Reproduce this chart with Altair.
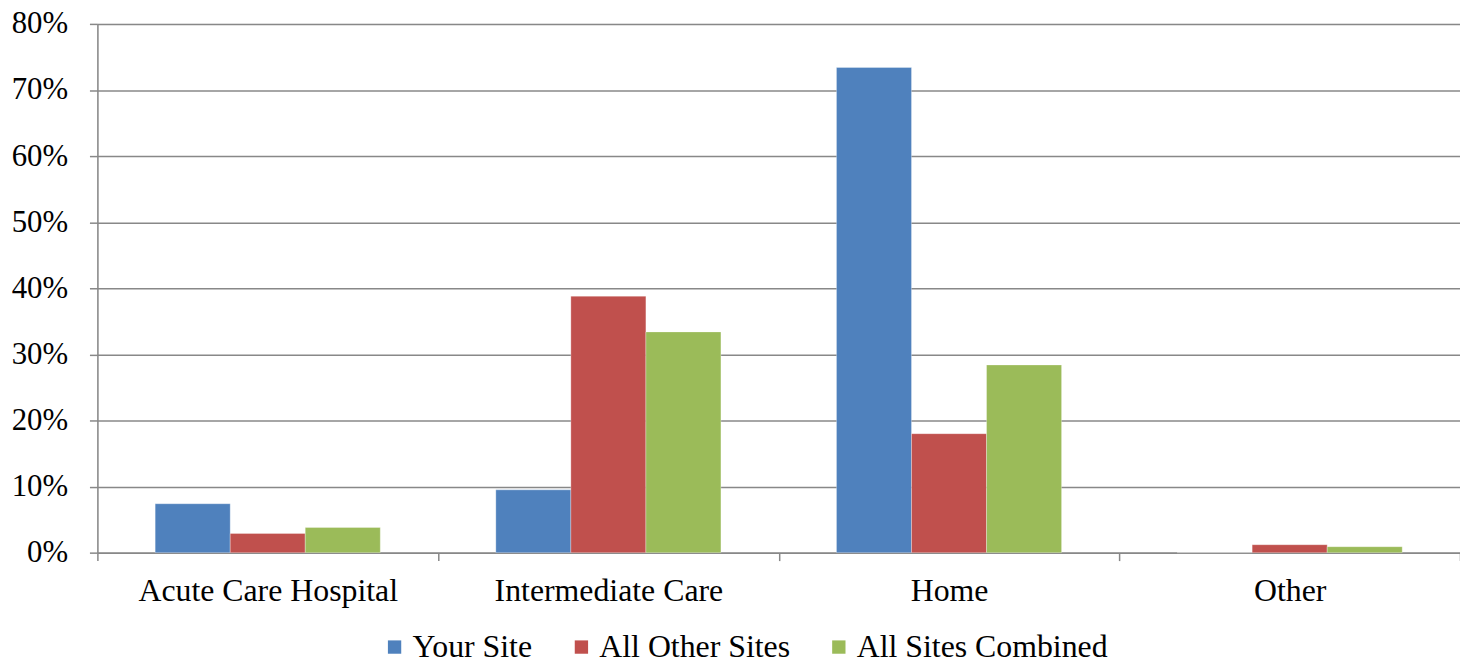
import altair as alt
import pandas as pd

categories = ["Acute Care Hospital", "Intermediate Care", "Home", "Other"]
series = ["Your Site", "All Other Sites", "All Sites Combined"]
your_site = [0.074, 0.095, 0.734, 0.0]
all_other_sites = [0.029, 0.388, 0.180, 0.012]
all_sites_combined = [0.038, 0.334, 0.284, 0.009]
colors = ["#4F81BD", "#C0504D", "#9BBB59"]
y_ticks = [0, 0.1, 0.2, 0.3, 0.4, 0.5, 0.6, 0.7, 0.8]

rows = []
for s, vals in zip(series, [your_site, all_other_sites, all_sites_combined]):
    for c, v in zip(categories, vals):
        rows.append({"Category": c, "Series": s, "Value": v})
df = pd.DataFrame(rows)

FONT = "Times New Roman, Liberation Serif, DejaVu Serif, serif"

chart = alt.Chart(df).mark_bar(stroke="white", strokeWidth=0.5, strokeOpacity=0.6).encode(
    x=alt.X("Category:N", sort=categories, title=None,
            scale=alt.Scale(paddingInner=0, paddingOuter=0),
            axis=alt.Axis(tickBand="extent", labelAngle=0, grid=False,
                          domainColor="#888888", tickColor="#888888",
                          tickSize=8, labelPadding=15, labelFontSize=32,
                          labelFont=FONT, labelColor="black", labelLimit=0,
                          domainWidth=1.5, tickWidth=1.5)),
    xOffset=alt.XOffset("Series:N", sort=series,
                        scale=alt.Scale(paddingOuter=0.77, paddingInner=0)),
    y=alt.Y("Value:Q", title=None,
            scale=alt.Scale(domain=[0, 0.8], nice=False),
            axis=alt.Axis(values=y_ticks, format=".0%", grid=True,
                          gridColor="#888888", gridWidth=1.5,
                          domainColor="#888888", domainWidth=1.5,
                          tickColor="#888888", tickWidth=1.5, tickSize=8,
                          labelPadding=22, labelFontSize=31, labelFont=FONT,
                          labelColor="black")),
    color=alt.Color("Series:N", sort=series,
                    scale=alt.Scale(domain=series, range=colors),
                    legend=alt.Legend(title=None, orient="none", direction="horizontal",
                                      legendX=283, legendY=611,
                                      symbolType="square", symbolSize=180,
                                      symbolStrokeWidth=0, labelFontSize=32,
                                      labelFont=FONT, labelColor="black", labelLimit=0,
                                      columnPadding=33, labelOffset=2)),
).properties(
    width=1371, height=532,
    autosize=alt.AutoSizeParams(type="none"),
    padding={"left": 98, "top": 22, "right": 0, "bottom": 112},
).configure_view(stroke=None).configure(background="white", font=FONT)

chart.save("out.html", embed_options={"renderer": "svg", "actions": False})
